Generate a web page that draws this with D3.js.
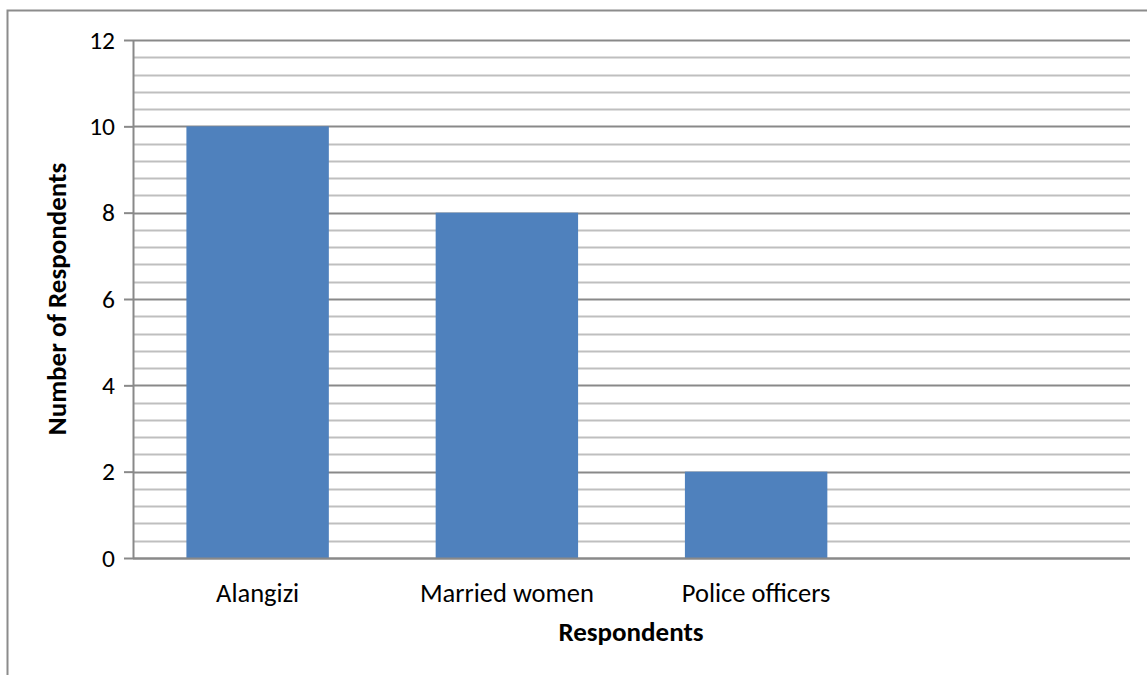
<!DOCTYPE html>
<html><head><meta charset="utf-8">
<script src="https://cdn.jsdelivr.net/npm/d3@7"></script>
<style>body{margin:0;background:#fff}svg{display:block}text{font-family:Carlito,Calibri,Lato,sans-serif}</style>
</head><body><svg id="c" width="1147" height="675"></svg>
<script>
const categories = ["Alangizi", "Married women", "Police officers", ""];
const values = [10, 8, 2, null];
const yTicks = [0, 2, 4, 6, 8, 10, 12];
const yTitle = "Number of Respondents";
const xTitle = "Respondents";

const svg = d3.select("#c");
const L = 133, R = 1130, T = 40, B = 558;

svg.append("rect").attr("x", 7.5).attr("y", 10.5).attr("width", 1200).attr("height", 700)
  .attr("fill", "none").attr("stroke", "#8c8c8c").attr("stroke-width", 2);

const x = d3.scaleBand().domain(categories).range([L, R]).paddingInner(0.75/1.75).paddingOuter(0.75/3.5);
const y = d3.scaleLinear().domain([0, 12]).range([B, T]);

// minor gridlines
const minor = d3.range(0, 12.0001, 0.4).filter(v => Math.abs(v/2 - Math.round(v/2)) > 1e-6);
svg.append("g").selectAll("line").data(minor).join("line")
  .attr("x1", L).attr("x2", R).attr("y1", d => Math.round(y(d)) + 0.5).attr("y2", d => Math.round(y(d)) + 0.5)
  .attr("stroke", "#bfbfbf").attr("stroke-width", 2);
// major gridlines
svg.append("g").selectAll("line").data(yTicks).join("line")
  .attr("x1", L).attr("x2", R).attr("y1", d => Math.round(y(d)) + 0.5).attr("y2", d => Math.round(y(d)) + 0.5)
  .attr("stroke", "#898989").attr("stroke-width", 2);

// bars
svg.append("g").selectAll("rect").data(categories.map((c, i) => ({c, v: values[i]})).filter(d => d.v != null)).join("rect")
  .attr("x", d => x(d.c)).attr("width", x.bandwidth())
  .attr("y", d => y(d.v)).attr("height", d => y(0) - y(d.v))
  .attr("fill", "#4f81bd");

// y axis
const ya = svg.append("g").attr("transform", `translate(${L},0)`)
  .call(d3.axisLeft(y).tickValues(yTicks).tickSize(9).tickPadding(9));
ya.select(".domain").attr("stroke", "#898989").attr("stroke-width", 2);
ya.selectAll(".tick line").attr("stroke", "#898989").attr("stroke-width", 2);
ya.selectAll("text").attr("font-size", 25.5).attr("fill", "#000").style("font-family", "Carlito,Calibri,Lato,sans-serif");
ya.select(".domain").attr("d", `M0.5,${T}V${B+1}`);

// x axis line
svg.append("line").attr("x1", L).attr("x2", R).attr("y1", B + 0.5).attr("y2", B + 0.5)
  .attr("stroke", "#898989").attr("stroke-width", 2);

// x labels
svg.append("g").selectAll("text").data(categories).join("text")
  .attr("x", d => x(d) + x.bandwidth()/2).attr("y", 602)
  .attr("text-anchor", "middle").attr("font-size", 26.5).attr("fill", "#000").text(d => d);

svg.append("text").attr("x", 631).attr("y", 641).attr("text-anchor", "middle")
  .attr("font-size", 27).attr("font-weight", "bold").text(xTitle);
svg.append("text").attr("transform", "translate(66,299) rotate(-90)").attr("text-anchor", "middle")
  .attr("font-size", 27).attr("font-weight", "bold").text(yTitle);
</script></body></html>
